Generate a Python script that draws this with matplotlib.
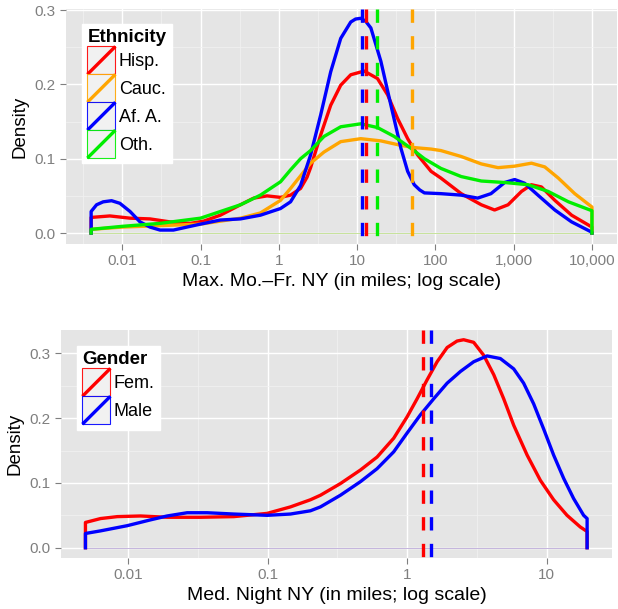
import numpy as np
import matplotlib
matplotlib.use("Agg")
import matplotlib.pyplot as plt
from matplotlib.legend_handler import HandlerBase
from matplotlib.lines import Line2D
from matplotlib.patches import Rectangle
from matplotlib.ticker import FixedLocator, FixedFormatter

plt.rcParams['font.family'] = ['Liberation Sans', 'DejaVu Sans']

# %% DATA (x stored as log10 of miles)

# top panel: density of max. Mo.-Fr. distance by ethnicity
hisp_lx = [-2.397, -2.158, -1.9, -1.645, -1.39, -1.13, -0.96, -0.747, -0.49, -0.32, -0.15,
           0.022, 0.15, 0.278, 0.36, 0.406, 0.535, 0.663, 0.791, 0.919, 1.09, 1.26, 1.39,
           1.518, 1.646, 1.774, 1.945, 2.07, 2.33, 2.587, 2.756, 2.928, 3.1, 3.227, 3.355,
           3.526, 3.74, 4.0]
hisp_y = [0.021, 0.023, 0.020, 0.019, 0.015, 0.013, 0.016, 0.024, 0.038, 0.047, 0.050,
          0.048, 0.051, 0.060, 0.075, 0.088, 0.132, 0.172, 0.199, 0.213, 0.218, 0.208, 0.186,
          0.154, 0.127, 0.105, 0.083, 0.074, 0.053, 0.038, 0.031, 0.038, 0.056, 0.065, 0.062,
          0.044, 0.024, 0.008]

cauc_lx = [-2.397, -2.0, -1.5, -1.0, -0.49, -0.235, 0.022, 0.15, 0.278, 0.406, 0.577,
           0.791, 1.047, 1.304, 1.56, 1.73, 1.945, 2.07, 2.33, 2.587, 2.8, 3.013, 3.227,
           3.397, 3.57, 3.78, 4.0]
cauc_y = [0.005, 0.008, 0.010, 0.012, 0.020, 0.027, 0.044, 0.060, 0.077, 0.094, 0.109,
          0.123, 0.127, 0.124, 0.118, 0.115, 0.113, 0.111, 0.103, 0.093, 0.088, 0.090, 0.094,
          0.089, 0.074, 0.053, 0.035]

afam_lx = [-2.397, -2.328, -2.243, -2.136, -2.03, -1.9, -1.773, -1.645, -1.517, -1.346,
           -1.174, -1.0, -0.747, -0.49, -0.235, 0.022, 0.15, 0.278, 0.406, 0.535, 0.663,
           0.791, 0.919, 0.98, 1.047, 1.11, 1.176, 1.304, 1.432, 1.56, 1.646, 1.73, 1.8,
           1.86, 2.07, 2.33, 2.54, 2.71, 2.885, 3.013, 3.14, 3.31, 3.526, 3.74, 4.0]
afam_y = [0.029, 0.038, 0.042, 0.0435, 0.040, 0.029, 0.015, 0.008, 0.004, 0.004,
          0.008, 0.012, 0.0175, 0.019, 0.024, 0.033, 0.042, 0.064, 0.105, 0.159, 0.217,
          0.262, 0.284, 0.288, 0.289, 0.285, 0.276, 0.231, 0.172, 0.114, 0.083, 0.065, 0.058,
          0.054, 0.053, 0.051, 0.047, 0.053, 0.068, 0.072, 0.067, 0.051, 0.031, 0.015, 0.001]

oth_lx = [-2.397, -2.0, -1.517, -1.0, -0.49, -0.235, 0.022, 0.15, 0.278, 0.406, 0.577,
          0.791, 1.047, 1.26, 1.474, 1.688, 1.86, 2.07, 2.33, 2.587, 2.885, 3.185, 3.44,
          3.7, 4.0]
oth_y = [0.005, 0.009, 0.013, 0.020, 0.038, 0.051, 0.069, 0.085, 0.100, 0.111, 0.130,
         0.143, 0.147, 0.142, 0.130, 0.114, 0.100, 0.087, 0.076, 0.070, 0.068, 0.065, 0.056,
         0.042, 0.030]

eth_labels = ['Hisp.', 'Cauc.', 'Af. A.', 'Oth.']
eth_colors = ['#ff0000', '#ffa500', '#0000ff', '#00ee00']
# group medians (dashed lines), miles
eth_medians = [13.0, 50.7, 11.6, 17.7]

# bottom panel: density of median night distance by gender
fem_lx = [-2.305, -2.197, -2.077, -1.91, -1.72, -1.48, -1.242, -1.003, -0.836, -0.693,
          -0.621, -0.478, -0.334, -0.215, -0.096, 0.0, 0.072, 0.143, 0.215, 0.287, 0.358,
          0.405, 0.477, 0.549, 0.621, 0.692, 0.764, 0.86, 0.955, 1.05, 1.146, 1.241, 1.29]
fem_y = [0.039, 0.045, 0.048, 0.049, 0.047, 0.047, 0.048, 0.053, 0.063, 0.074,
         0.081, 0.099, 0.120, 0.140, 0.169, 0.202, 0.230, 0.259, 0.287, 0.309, 0.319,
         0.321, 0.317, 0.297, 0.267, 0.230, 0.189, 0.143, 0.104, 0.074, 0.050, 0.032, 0.025]

male_lx = [-2.305, -2.197, -2.006, -1.839, -1.72, -1.576, -1.433, -1.242, -1.003, -0.836,
           -0.693, -0.621, -0.478, -0.334, -0.215, -0.096, 0.0, 0.095, 0.191, 0.287, 0.382,
           0.477, 0.573, 0.668, 0.764, 0.835, 0.907, 0.979, 1.05, 1.122, 1.193, 1.265, 1.29]
male_y = [0.022, 0.026, 0.034, 0.043, 0.049, 0.054, 0.054, 0.052, 0.050, 0.052,
          0.057, 0.063, 0.081, 0.102, 0.122, 0.148, 0.177, 0.205, 0.230, 0.254, 0.272,
          0.287, 0.296, 0.292, 0.276, 0.254, 0.222, 0.183, 0.143, 0.107, 0.076, 0.050, 0.045]

gen_labels = ['Fem.', 'Male']
gen_colors = ['#ff0000', '#0000ff']
gen_medians = [1.31, 1.49]

top_xticks = [0.01, 0.1, 1, 10, 100, 1000, 10000]
top_xlabels = ['0.01', '0.1', '1', '10', '100', '1,000', '10,000']
bot_xticks = [0.01, 0.1, 1, 10]
bot_xlabels = ['0.01', '0.1', '1', '10']
yticks = [0.0, 0.1, 0.2, 0.3]


# %% LEGEND KEY: grey square, coloured border, diagonal stroke

class KeyHandler(HandlerBase):
    def create_artists(self, legend, orig_handle, xdescent, ydescent,
                       width, height, fontsize, trans):
        c = orig_handle.get_color()
        x0, y0 = -xdescent, -ydescent
        rect = Rectangle((x0, y0), width, height, facecolor='#f0f0f0',
                         edgecolor=c, lw=0.8, alpha=0.9, transform=trans)
        line = Line2D([x0, x0 + width], [y0, y0 + height], color=c,
                      lw=2.4, solid_capstyle='butt', transform=trans)
        return [rect, line]


def style_axes(ax, xlim, ylim, xticks, xlabels, xlabel):
    ax.set_facecolor('#e5e5e5')
    for s in ax.spines.values():
        s.set_visible(False)
    ax.set_xscale('log')
    ax.set_xlim(xlim)
    ax.set_ylim(ylim)
    ax.xaxis.set_major_locator(FixedLocator(xticks))
    ax.xaxis.set_major_formatter(FixedFormatter(xlabels))
    minors = [t * 10 ** 0.5 for t in xticks[:-1]] + [xticks[0] / 10 ** 0.5, xticks[-1] * 10 ** 0.5]
    ax.xaxis.set_minor_locator(FixedLocator(minors))
    ax.xaxis.set_minor_formatter(FixedFormatter([''] * len(minors)))
    ax.set_yticks(yticks)
    ax.set_yticklabels(['0.0', '0.1', '0.2', '0.3'])
    ax.set_yticks([0.05, 0.15, 0.25], minor=True)
    ax.grid(which='major', color='white', lw=1.0)
    ax.grid(which='minor', color='#f2f2f2', lw=0.5)
    ax.set_axisbelow(True)
    ax.tick_params(which='major', length=4.5, width=0.8, color='#7f7f7f',
                   labelcolor='#7f7f7f', labelsize=11, pad=3)
    ax.tick_params(which='minor', length=0)
    ax.set_xlabel(xlabel, fontsize=14, labelpad=3)
    ax.set_ylabel('Density', fontsize=13.5, labelpad=4)


def density(ax, lx, y, color):
    x = 10 ** np.array(lx)
    xs = np.concatenate([[x[0]], x, [x[-1]]])
    ys = np.concatenate([[0.0], y, [0.0]])
    ax.plot(xs, ys, color=color, lw=2.4, solid_joinstyle='round')


def add_legend(ax, labels, colors, title, anchor):
    handles = [Line2D([], [], color=c) for c in colors]
    leg = ax.legend(handles, labels, title=title, loc='upper left',
                    bbox_to_anchor=anchor, handler_map={Line2D: KeyHandler()},
                    handlelength=1.55, handleheight=2.0, labelspacing=0.0,
                    handletextpad=0.2, borderpad=0.3, borderaxespad=0,
                    fontsize=13, frameon=True, fancybox=False, framealpha=1,
                    edgecolor='white', alignment='left')
    leg.get_title().set_fontweight('bold')
    leg.get_title().set_fontsize(13.5)


fig = plt.figure(figsize=(6.18, 6.09), dpi=100)

# %% TOP PANEL
ax1 = fig.add_axes([0.1068, 0.5993, 0.8916, 0.3859])
style_axes(ax1, (0.001914, 20893), (-0.0148, 0.3015), top_xticks, top_xlabels,
           'Max. Mo.\u2013Fr. NY (in miles; log scale)')
ax1.plot([10 ** hisp_lx[0], 10 ** hisp_lx[-1]], [0, 0], color='#c6e29a', lw=0.7)
for lx, y, c in zip([hisp_lx, cauc_lx, afam_lx, oth_lx],
                    [hisp_y, cauc_y, afam_y, oth_y], eth_colors):
    density(ax1, lx, y, c)
for i in [2, 0, 3, 1]:
    ax1.axvline(eth_medians[i], ymin=1, ymax=0, color=eth_colors[i], lw=2.4, dashes=(4.0, 4.0))
add_legend(ax1, eth_labels, eth_colors, 'Ethnicity', (0.029, 0.936))

# %% BOTTOM PANEL
ax2 = fig.add_axes([0.0987, 0.0837, 0.8916, 0.3744])
style_axes(ax2, (0.00331, 29.4), (-0.0159, 0.336), bot_xticks, bot_xlabels,
           'Med. Night NY (in miles; log scale)')
ax2.plot([10 ** fem_lx[0], 10 ** fem_lx[-1]], [0, 0], color='#c4b4dc', lw=0.7)
for lx, y, c in zip([fem_lx, male_lx], [fem_y, male_y], gen_colors):
    density(ax2, lx, y, c)
for m, c in zip(gen_medians, gen_colors):
    ax2.axvline(m, ymin=1, ymax=0, color=c, lw=2.4, dashes=(4.0, 4.0))
add_legend(ax2, gen_labels, gen_colors, 'Gender', (0.029, 0.93))

fig.savefig('out.png', dpi=100)
